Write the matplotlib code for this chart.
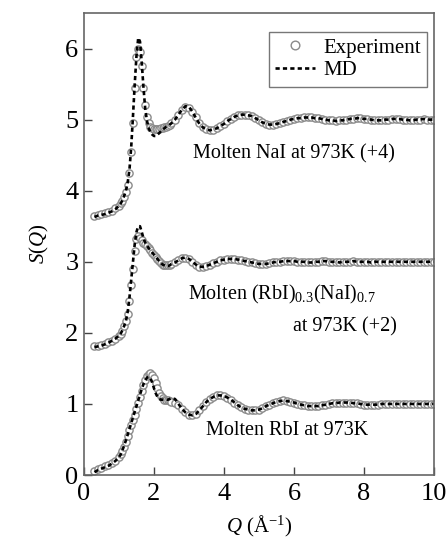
import matplotlib
matplotlib.use("Agg")
import matplotlib.pyplot as plt

plt.rcParams['font.family'] = ['Liberation Serif', 'DejaVu Serif']
plt.rcParams['mathtext.fontset'] = 'custom'
plt.rcParams['mathtext.rm'] = 'Liberation Serif'
plt.rcParams['mathtext.it'] = 'Liberation Serif:italic'

# Q grid (1/A) shared by all curves
q = [0.3, 0.4, 0.5, 0.6, 0.7, 0.8, 0.9, 1.0,
     1.05, 1.1, 1.15, 1.2, 1.25, 1.3, 1.35, 1.4, 1.45, 1.5,
     1.55, 1.6, 1.65, 1.7, 1.75, 1.8, 1.85, 1.9, 1.95, 2.0,
     2.05, 2.1, 2.15, 2.2, 2.25, 2.3, 2.35, 2.4, 2.45, 2.5,
     2.6, 2.7, 2.8, 2.9, 3.0, 3.1, 3.2, 3.3, 3.4, 3.5,
     3.6, 3.7, 3.8, 3.9, 4.0, 4.1, 4.2, 4.3, 4.4, 4.5,
     4.6, 4.7, 4.8, 4.9, 5.0, 5.1, 5.2, 5.3, 5.4, 5.5,
     5.6, 5.7, 5.8, 5.9, 6.0, 6.1, 6.2, 6.3, 6.4, 6.5,
     6.6, 6.7, 6.8, 6.9, 7.0, 7.1, 7.2, 7.3, 7.4, 7.5,
     7.6, 7.7, 7.8, 7.9, 8.0, 8.1, 8.2, 8.3, 8.4, 8.5,
     8.6, 8.7, 8.8, 8.9, 9.0, 9.1, 9.2, 9.3, 9.4, 9.5,
     9.6, 9.7, 9.8, 9.9, 10.0]

# molten NaI, 973K
nai_exp = [-0.35, -0.34, -0.33, -0.32, -0.30, -0.28, -0.25, -0.21,
           -0.18, -0.14, -0.09, -0.02, 0.08, 0.25, 0.55, 0.95, 1.45, 1.88,
           2.00, 1.95, 1.75, 1.45, 1.20, 1.03, 0.95, 0.90, 0.88, 0.87,
           0.87, 0.87, 0.87, 0.88, 0.88, 0.89, 0.90, 0.91, 0.93, 0.95,
           1.00, 1.07, 1.14, 1.18, 1.17, 1.11, 1.03, 0.95, 0.90, 0.87,
           0.86, 0.86, 0.88, 0.91, 0.94, 0.98, 1.01, 1.04, 1.06, 1.07,
           1.07, 1.06, 1.05, 1.02, 0.99, 0.96, 0.94, 0.93, 0.93, 0.94,
           0.95, 0.97, 0.98, 1.00, 1.01, 1.02, 1.02, 1.03, 1.03, 1.03,
           1.02, 1.02, 1.01, 1.00, 0.99, 0.99, 0.98, 0.99, 0.99, 1.00,
           1.01, 1.01, 1.02, 1.02, 1.01, 1.01, 1.00, 0.99, 0.99, 0.99,
           1.00, 1.00, 1.01, 1.01, 1.01, 1.00, 1.00, 0.99, 0.99, 1.00,
           1.00, 1.01, 1.00, 1.00, 1.00]
nai_md = [-0.37, -0.35, -0.34, -0.33, -0.31, -0.29, -0.26, -0.21,
          -0.18, -0.13, -0.07, 0.00, 0.12, 0.30, 0.62, 1.05, 1.50, 1.90,
          2.15, 2.10, 1.80, 1.45, 1.15, 0.98, 0.88, 0.82, 0.79, 0.77,
          0.77, 0.79, 0.81, 0.84, 0.86, 0.88, 0.90, 0.91, 0.93, 0.95,
          1.00, 1.07, 1.14, 1.19, 1.18, 1.11, 1.02, 0.94, 0.89, 0.86,
          0.85, 0.86, 0.88, 0.91, 0.94, 0.98, 1.01, 1.04, 1.06, 1.07,
          1.07, 1.06, 1.05, 1.02, 0.99, 0.96, 0.94, 0.93, 0.93, 0.94,
          0.95, 0.97, 0.98, 1.00, 1.01, 1.02, 1.02, 1.03, 1.03, 1.03,
          1.02, 1.02, 1.01, 1.00, 0.99, 0.99, 0.98, 0.99, 0.99, 1.00,
          1.01, 1.01, 1.02, 1.02, 1.01, 1.01, 1.00, 0.99, 0.99, 0.99,
          1.00, 1.00, 1.01, 1.01, 1.01, 1.00, 1.00, 0.99, 0.99, 1.00,
          1.00, 1.01, 1.00, 1.00, 1.00]

# molten (RbI)0.3(NaI)0.7, 973K
mix_exp = [-0.19, -0.18, -0.17, -0.15, -0.13, -0.11, -0.08, -0.04,
           -0.01, 0.03, 0.09, 0.17, 0.27, 0.45, 0.68, 0.90, 1.15, 1.32,
           1.36, 1.33, 1.30, 1.27, 1.25, 1.22, 1.19, 1.16, 1.13, 1.10,
           1.07, 1.04, 1.01, 0.98, 0.96, 0.95, 0.95, 0.95, 0.96, 0.97,
           0.99, 1.02, 1.05, 1.06, 1.04, 1.00, 0.96, 0.93, 0.93, 0.94,
           0.96, 0.98, 1.00, 1.02, 1.03, 1.04, 1.04, 1.04, 1.03, 1.02,
           1.01, 1.00, 0.99, 0.98, 0.97, 0.97, 0.97, 0.98, 0.99, 1.00,
           1.00, 1.01, 1.01, 1.01, 1.01, 1.00, 1.00, 1.00, 0.99, 0.99,
           1.00, 1.00, 1.01, 1.01, 1.00, 1.00, 1.00, 0.99, 1.00, 1.00,
           1.00, 1.01, 1.00, 1.00, 1.00, 1.00, 0.99, 1.00, 1.00, 1.00,
           1.00, 1.00, 1.00, 1.00, 1.00, 1.00, 1.00, 1.00, 1.00, 1.00,
           1.00, 1.00, 1.00, 1.00, 1.00]
mix_md = [-0.20, -0.19, -0.18, -0.16, -0.14, -0.11, -0.08, -0.04,
          -0.01, 0.04, 0.10, 0.17, 0.30, 0.50, 0.75, 1.00, 1.25, 1.42,
          1.50, 1.50, 1.42, 1.33, 1.27, 1.23, 1.19, 1.16, 1.13, 1.10,
          1.07, 1.04, 1.01, 0.98, 0.96, 0.95, 0.94, 0.94, 0.95, 0.97,
          0.99, 1.02, 1.05, 1.06, 1.04, 1.00, 0.96, 0.93, 0.93, 0.94,
          0.96, 0.98, 1.00, 1.02, 1.03, 1.04, 1.04, 1.04, 1.03, 1.02,
          1.01, 1.00, 0.99, 0.98, 0.97, 0.97, 0.97, 0.98, 0.99, 1.00,
          1.00, 1.01, 1.01, 1.01, 1.01, 1.00, 1.00, 1.00, 0.99, 0.99,
          1.00, 1.00, 1.01, 1.01, 1.00, 1.00, 1.00, 0.99, 1.00, 1.00,
          1.00, 1.01, 1.00, 1.00, 1.00, 1.00, 0.99, 1.00, 1.00, 1.00,
          1.00, 1.00, 1.00, 1.00, 1.00, 1.00, 1.00, 1.00, 1.00, 1.00,
          1.00, 1.00, 1.00, 1.00, 1.00]

# molten RbI, 973K
rbi_exp = [0.06, 0.08, 0.10, 0.12, 0.14, 0.17, 0.20, 0.25,
           0.29, 0.34, 0.40, 0.47, 0.55, 0.63, 0.70, 0.77, 0.85, 0.93,
           1.01, 1.10, 1.18, 1.26, 1.33, 1.39, 1.42, 1.43, 1.41, 1.36,
           1.30, 1.23, 1.16, 1.11, 1.08, 1.06, 1.05, 1.05, 1.04, 1.03,
           1.01, 0.98, 0.93, 0.88, 0.85, 0.84, 0.86, 0.91, 0.97, 1.03,
           1.07, 1.10, 1.12, 1.12, 1.11, 1.09, 1.06, 1.02, 0.98, 0.95,
           0.93, 0.92, 0.91, 0.91, 0.92, 0.94, 0.97, 0.99, 1.01, 1.03,
           1.04, 1.05, 1.04, 1.03, 1.02, 1.00, 0.99, 0.98, 0.97, 0.97,
           0.97, 0.97, 0.98, 0.99, 1.00, 1.01, 1.01, 1.02, 1.02, 1.02,
           1.02, 1.01, 1.01, 1.00, 0.99, 0.99, 0.99, 0.99, 0.99, 1.00,
           1.00, 1.00, 1.00, 1.00, 1.00, 1.00, 1.00, 1.00, 1.00, 1.00,
           1.00, 1.00, 1.00, 1.00, 1.00]
rbi_md = [0.04, 0.07, 0.09, 0.11, 0.13, 0.16, 0.20, 0.25,
          0.29, 0.35, 0.42, 0.49, 0.57, 0.65, 0.73, 0.81, 0.89, 0.97,
          1.05, 1.13, 1.21, 1.28, 1.33, 1.37, 1.38, 1.36, 1.30, 1.22,
          1.15, 1.10, 1.07, 1.06, 1.06, 1.06, 1.06, 1.06, 1.07, 1.08,
          1.07, 1.00, 0.93, 0.88, 0.85, 0.84, 0.86, 0.91, 0.97, 1.03,
          1.07, 1.10, 1.12, 1.12, 1.11, 1.09, 1.06, 1.02, 0.98, 0.95,
          0.93, 0.92, 0.91, 0.91, 0.92, 0.94, 0.97, 0.99, 1.01, 1.03,
          1.04, 1.05, 1.04, 1.03, 1.02, 1.00, 0.99, 0.98, 0.97, 0.97,
          0.97, 0.97, 0.98, 0.99, 1.00, 1.01, 1.01, 1.02, 1.02, 1.02,
          1.02, 1.01, 1.01, 1.00, 0.99, 0.99, 0.99, 0.99, 0.99, 1.00,
          1.00, 1.00, 1.00, 1.00, 1.00, 1.00, 1.00, 1.00, 1.00, 1.00,
          1.00, 1.00, 1.00, 1.00, 1.00]

# vertical offsets used in the figure
offsets = {'nai': 4, 'mix': 2, 'rbi': 0}

fig = plt.figure(figsize=(4.46, 5.44), dpi=100)
ax = fig.add_axes([0.1883, 0.1268, 0.7848, 0.8493])

exp_style = dict(linestyle='none', marker='o', markersize=5.2,
                 markerfacecolor='white', markeredgecolor='#8a8a8a',
                 markeredgewidth=1.0)
md_style = dict(color='black', linewidth=1.9, linestyle=(0, (1.6, 1.2)))

series = [('rbi', rbi_exp, rbi_md), ('mix', mix_exp, mix_md), ('nai', nai_exp, nai_md)]
for i, (key, s_exp, s_md) in enumerate(series):
    off = offsets[key]
    ax.plot(q, [s + off for s in s_exp], label='Experiment' if i == 0 else None, **exp_style)
for i, (key, s_exp, s_md) in enumerate(series):
    off = offsets[key]
    ax.plot(q, [s + off for s in s_md], label='MD' if i == 0 else None, **md_style)

ax.set_xlim(0, 10)
ax.set_ylim(0, 6.5)
ax.set_xticks([0, 2, 4, 6, 8, 10])
ax.set_yticks([0, 1, 2, 3, 4, 5, 6])
ax.tick_params(direction='in', length=6, width=1, colors='#444444',
               labelsize=19, labelcolor='black', pad=4)
ax.tick_params(axis='x', pad=6)
for sp in ax.spines.values():
    sp.set_color('#666666')
    sp.set_linewidth(1.2)

ax.set_xlabel('$Q$ (Å$^{-1}$)', fontsize=15, labelpad=6)
ax.set_ylabel('$S$($Q$)', fontsize=15, labelpad=10)

ax.text(6.0, 4.52, 'Molten NaI at 973K (+4)', fontsize=14.5, ha='center', va='center')
ax.text(2.97, 2.54, 'Molten (RbI)$_{0.3}$(NaI)$_{0.7}$', fontsize=14.5, ha='left', va='center')
ax.text(8.94, 2.08, 'at 973K (+2)', fontsize=14.5, ha='right', va='center')
ax.text(5.8, 0.63, 'Molten RbI at 973K', fontsize=14.5, ha='center', va='center')

leg = ax.legend(loc='upper right', bbox_to_anchor=(0.98, 0.959), fontsize=15,
                frameon=True, fancybox=False, borderaxespad=0,
                handlelength=1.9, handletextpad=0.4, borderpad=0.3,
                labelspacing=0.15, numpoints=1, markerscale=1.2)
leg.get_frame().set_edgecolor('#555555')
leg.get_frame().set_linewidth(1.0)

fig.savefig('out.png', dpi=100)
